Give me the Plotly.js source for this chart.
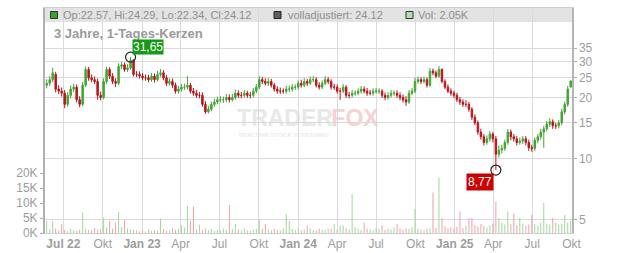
<!DOCTYPE html>
<html>
<head>
<meta charset="utf-8">
<script src="https://cdn.plot.ly/plotly-3.0.1.min.js"></script>
<style>
html,body{margin:0;padding:0;background:#fff;}
#chart{width:632px;height:253px;}
</style>
</head>
<body>
<div id="chart"></div>
<script>
// ---- data (weekly candles) ----
const firstWeek = '2022-05-23';
const opens = [
23.0,23.5,24.5,26.0,22.0,21.5,21.0,18.5,20.5,22.0,
22.5,19.5,18.5,23.0,27.5,25.0,24.5,24.0,20.5,20.0,
24.0,27.5,25.5,24.0,23.5,28.5,29.0,27.5,28.0,30.5,
26.0,26.0,25.5,25.0,25.0,24.5,25.5,24.5,26.0,26.5,
25.0,23.5,24.0,23.0,21.5,22.0,22.5,22.5,23.0,21.5,
21.0,20.5,20.5,18.5,17.0,17.5,18.5,19.0,19.5,19.5,
19.5,20.0,19.5,20.0,21.0,20.5,20.5,21.0,20.5,20.5,
21.5,22.5,24.5,24.0,23.5,24.0,23.0,22.0,21.5,21.5,
21.5,22.0,22.0,22.5,22.5,23.5,23.0,24.0,23.5,24.5,
24.5,23.0,22.5,23.5,24.5,24.0,22.5,22.5,21.5,21.5,
22.5,20.5,20.5,21.0,21.0,21.5,22.0,21.5,21.0,21.0,
21.5,21.5,21.5,20.5,20.0,20.5,21.0,21.0,20.5,20.0,
19.5,19.0,21.0,21.5,24.0,24.5,24.0,24.5,23.0,27.0,
26.5,25.5,27.5,24.0,22.5,21.5,21.0,20.5,19.5,19.0,
18.5,18.5,17.5,16.0,15.0,13.5,12.8,12.0,12.5,13.2,
12.5,10.5,11.0,11.2,12.0,13.5,12.8,12.5,12.0,12.2,
12.5,12.0,11.3,11.2,12.3,12.8,13.5,14.0,14.8,15.2,
14.5,14.5,15.0,17.0,18.5,22.57];
const highs = [
24.6,25.5,28.0,26.8,23.0,22.4,21.8,21.3,22.9,23.4,
23.2,20.3,23.9,28.5,28.3,26.0,25.4,24.8,21.4,24.9,
28.4,28.2,26.4,24.9,29.5,30.0,29.8,29.2,31.65,30.9,
27.0,26.9,26.4,26.0,25.9,26.4,26.3,27.0,27.6,27.3,
25.8,24.9,24.8,23.7,22.8,23.3,23.4,25.5,23.6,22.3,
21.8,21.3,21.2,19.2,18.2,19.1,19.7,20.2,20.3,20.2,
20.8,20.7,20.8,21.9,21.7,21.3,21.8,21.6,21.3,22.3,
23.3,25.5,25.3,24.9,24.9,24.7,23.6,22.7,22.4,22.2,
22.8,22.9,23.3,23.2,24.3,24.5,24.9,24.7,25.4,25.6,
25.2,23.8,24.3,25.5,25.2,24.6,23.4,23.2,22.3,23.3,
23.0,21.3,21.8,21.7,22.2,22.8,22.7,22.3,21.8,22.2,
22.3,22.2,22.0,21.2,21.3,21.8,21.7,21.7,21.2,20.7,
20.3,21.8,22.3,25.0,25.4,25.2,25.4,25.1,28.0,27.8,
27.2,28.6,27.9,24.6,23.2,22.2,21.6,21.1,20.1,19.6,
19.4,19.0,17.9,16.5,15.4,14.0,13.2,13.0,13.7,13.5,
12.9,11.6,11.7,12.4,14.0,13.9,13.2,12.9,12.7,12.9,
12.9,12.4,11.7,12.7,13.2,14.0,14.5,15.3,15.8,15.6,
15.0,15.5,17.6,19.1,22.8,24.29];
const lows = [
22.2,22.8,23.8,21.2,20.8,20.2,17.7,18.0,19.8,21.3,
18.9,17.9,18.1,22.5,24.2,23.8,23.3,19.5,19.4,19.6,
23.4,24.7,23.3,22.5,23.0,27.6,26.8,26.7,27.4,25.4,
25.2,24.8,24.3,24.2,23.8,23.9,23.7,24.0,25.3,24.3,
22.8,22.9,22.3,20.9,20.9,21.4,21.8,21.9,20.9,20.4,
19.9,19.8,18.0,16.6,16.7,17.1,18.0,18.5,18.9,18.8,
19.0,18.9,19.1,19.5,19.9,19.8,20.0,19.9,19.8,20.0,
21.0,22.0,23.3,22.9,22.8,22.4,21.4,20.9,20.8,20.9,
20.9,21.3,21.4,21.8,21.9,22.4,22.5,22.8,23.0,23.8,
22.4,21.9,22.0,23.0,23.3,21.9,21.8,20.9,19.5,21.0,
19.9,19.8,20.0,20.4,20.5,20.9,21.0,20.4,20.5,20.4,
20.9,20.8,19.9,19.4,19.5,20.0,20.4,19.9,19.4,18.9,
18.2,18.6,20.5,21.0,23.4,23.3,23.5,22.4,22.6,25.8,
24.9,25.0,23.5,22.0,21.0,20.4,19.9,19.0,18.4,18.0,
17.9,17.0,15.5,14.6,13.1,12.4,11.6,11.7,12.1,12.0,
8.77,10.1,10.6,10.9,11.7,12.3,12.1,11.6,11.7,11.8,
11.6,10.9,10.8,10.9,11.9,12.4,11.3,13.6,14.3,14.0,
14.0,14.1,14.6,16.5,18.0,22.34];
const closes = [
23.5,24.5,26.5,22.0,21.5,21.0,18.5,20.5,22.0,22.5,
19.5,18.5,23.0,27.5,25.0,24.5,24.0,20.5,20.0,24.0,
27.5,25.5,24.0,23.5,28.5,29.0,27.5,28.0,30.5,26.0,
26.0,25.5,25.0,25.0,24.5,25.5,24.5,26.0,26.5,25.0,
23.5,24.0,23.0,21.5,22.0,22.5,22.5,23.0,21.5,21.0,
20.5,20.5,18.5,17.0,17.5,18.5,19.0,19.5,19.5,19.5,
20.0,19.5,20.0,21.0,20.5,20.5,21.0,20.5,20.5,21.5,
22.5,24.5,24.0,23.5,24.0,23.0,22.0,21.5,21.5,21.5,
22.0,22.0,22.5,22.5,23.5,23.0,24.0,23.5,24.5,24.5,
23.0,22.5,23.5,24.5,24.0,22.5,22.5,21.5,21.5,22.5,
20.5,20.5,21.0,21.0,21.5,22.0,21.5,21.0,21.0,21.5,
21.5,21.5,20.5,20.0,20.5,21.0,21.0,20.5,20.0,19.5,
19.0,21.0,21.5,24.0,24.5,24.0,24.5,23.0,27.0,26.5,
25.5,27.5,24.0,22.5,21.5,21.0,20.5,19.5,19.0,18.5,
18.5,17.5,16.0,15.0,13.5,12.8,12.0,12.5,13.2,12.5,
10.5,11.0,11.2,12.0,13.5,12.8,12.5,12.0,12.2,12.5,
12.0,11.3,11.2,12.3,12.8,13.5,14.0,14.8,15.2,14.5,
14.5,15.0,17.0,18.5,22.0,24.12];
const volumes = [
4.0,1.2,4.0,1.5,0.8,3.0,1.0,0.6,1.4,0.9,
0.7,1.1,6.8,1.5,1.0,0.8,1.6,1.2,1.4,5.2,
1.8,4.0,1.5,3.5,7.0,2.0,4.5,1.6,1.2,1.0,
0.8,0.6,0.9,0.5,1.2,0.7,1.0,0.8,4.8,1.3,
0.7,0.9,1.5,1.0,1.4,2.5,1.8,9.0,4.0,8.8,
1.2,2.8,1.0,1.6,0.8,1.3,0.7,1.1,0.9,1.5,
1.0,9.3,1.4,3.0,1.2,0.8,1.6,0.9,0.7,1.1,
1.3,4.5,1.5,3.0,1.2,0.9,1.4,1.0,0.8,1.6,
6.3,4.0,1.3,1.0,1.5,0.9,1.2,2.5,1.6,1.0,
0.8,1.4,1.1,0.9,1.3,1.5,3.0,1.2,2.5,2.5,
1.6,1.2,13.0,1.8,1.4,1.0,3.5,1.5,1.2,0.9,
1.6,1.3,2.5,1.0,1.4,1.2,1.8,3.0,1.5,1.2,
1.6,1.3,1.8,8.0,1.5,1.2,0.9,1.4,1.6,13.5,
1.7,18.5,5.0,2.2,1.6,1.8,1.4,2.0,7.2,1.6,
2.4,5.0,5.0,2.6,2.2,3.0,2.5,1.8,2.6,3.2,
10.5,5.0,3.4,2.8,7.2,3.0,6.5,2.6,5.0,3.2,
2.4,2.8,6.0,3.0,2.5,3.4,10.0,3.2,2.8,5.0,
3.5,2.6,3.0,6.0,3.4,4.0]; // in thousands

const xTickDates = ['2022-07-01','2022-10-01','2023-01-01','2023-04-01','2023-07-01','2023-10-01',
  '2024-01-01','2024-04-01','2024-07-01','2024-10-01','2025-01-01','2025-04-01','2025-07-01','2025-10-01'];
const xTickLabels = ['<b>Jul 22</b>','Okt','<b>Jan 23</b>','Apr','Jul','Okt','<b>Jan 24</b>','Apr','Jul','Okt','<b>Jan 25</b>','Apr','Jul','Okt'];
const priceTicks = [5,10,15,20,25,30,35];
const volTicks = [0,5,10,15,20];
const volTickLabels = ['0K','5K','10K','15K','20K'];
const extremeIdx = [28,150];
const extremeVals = [31.65, 8.77];
const extremeLabels = ['31,65','8,77'];
const header = {op:'22.57', hi:'24.29', lo:'22.34', cl:'24.12', adj:'24.12', vol:'2.05K'};

// ---- build ----
const DAY = 864e5;
const start = Date.parse(firstWeek + 'T00:00:00Z');
const dates = closes.map((_, i) => new Date(start + i*7*DAY).toISOString().slice(0,10));
const volColors = closes.map((c, i) => c >= opens[i] ? '#a2d99c' : '#f2a3ab');

const FONT = 'Liberation Sans, Arial, sans-serif';
const W = 632, L = 45, R = 60, T = 8, B = 20;
const PW = W - L - R, PH = 253 - T - B;
const px = x => (x - L) / PW;
const py = y => (T + PH - y) / PH;

const traces = [
  {
    type: 'bar', x: dates, y: volumes.map(v => v*1000), yaxis: 'y2',
    marker: {color: volColors, line: {width: 0}}, width: 2.4*DAY,
    hoverinfo: 'skip'
  },
  {
    type: 'candlestick', x: dates, open: opens, high: highs, low: lows, close: closes,
    increasing: {line: {color: '#43a632', width: 1}, fillcolor: '#43a632'},
    decreasing: {line: {color: '#b8161c', width: 1}, fillcolor: '#b8161c'},
    whiskerwidth: 0, hoverinfo: 'skip'
  },
  {
    type: 'scatter', mode: 'markers',
    x: extremeIdx.map(i => dates[i]), y: extremeVals,
    marker: {symbol: 'circle-open', size: 10, color: '#222', line: {width: 1.2, color: '#222'}},
    hoverinfo: 'skip'
  }
];

const gridC = '#dadada';
const layout = {
  width: W, height: 253,
  margin: {l: L, r: R, t: T, b: B, pad: 0},
  paper_bgcolor: '#fff', plot_bgcolor: '#fff',
  showlegend: false, hovermode: false,
  font: {family: FONT, color: '#999', size: 12},
  xaxis: {
    type: 'date', range: ['2022-05-19', '2025-10-02'],
    tickmode: 'array', tickvals: xTickDates, ticktext: xTickLabels,
    showgrid: true, gridcolor: gridC, gridwidth: 1,
    ticks: '', tickfont: {family: FONT, size: 12, color: '#9d9d9d'},
    showline: true, linecolor: '#cfcfcf', linewidth: 1, mirror: true,
    rangeslider: {visible: false}, zeroline: false, fixedrange: true
  },
  yaxis: {
    type: 'log', range: [0.6323, 1.7428], side: 'right',
    tickmode: 'array', tickvals: priceTicks, ticktext: priceTicks.map(String),
    showgrid: true, gridcolor: gridC, gridwidth: 1,
    ticks: 'outside', ticklen: 3, tickcolor: '#aaa',
    tickfont: {family: FONT, size: 12, color: '#9d9d9d'},
    showline: true, linecolor: '#b5b5b5', linewidth: 1.5, zeroline: false, fixedrange: true
  },
  yaxis2: {
    overlaying: 'y', side: 'left', range: [0, 75000],
    tickmode: 'array', tickvals: volTicks.map(v => v*1000), ticktext: volTickLabels,
    showgrid: false, ticks: 'outside', ticklen: 3, tickcolor: '#aaa',
    tickfont: {family: FONT, size: 12, color: '#9d9d9d'},
    showline: true, linecolor: '#b0b0b0', linewidth: 2, zeroline: false, fixedrange: true
  },
  shapes: [
    {type: 'rect', xref: 'paper', yref: 'paper', x0: 0, x1: 1, y0: py(22), y1: 1,
     fillcolor: '#e3e3e3', line: {width: 0}, layer: 'below'},
    {type: 'rect', xref: 'paper', yref: 'paper', x0: px(50.5), x1: px(57.5), y0: py(18.5), y1: py(11.5),
     fillcolor: '#3aa335', line: {width: 1, color: '#333'}},
    {type: 'rect', xref: 'paper', yref: 'paper', x0: px(274), x1: px(281), y0: py(18.5), y1: py(11.5),
     fillcolor: '#5e5e5e', line: {width: 1, color: '#222'}},
    {type: 'rect', xref: 'paper', yref: 'paper', x0: px(406), x1: px(413), y0: py(18.5), y1: py(11.5),
     fillcolor: '#b2e0b0', line: {width: 1, color: '#333'}},
    {type: 'rect', xref: 'paper', yref: 'paper', x0: px(275), x1: px(295), y0: py(125), y1: py(107),
     line: {width: 0}, fillcolor: 'rgba(0,0,0,0)', layer: 'below',
     label: {text: '<b>TRADER</b>', textposition: 'middle center', font: {family: FONT, size: 23, color: '#e8e8e8'}}},
    {type: 'rect', xref: 'paper', yref: 'paper', x0: px(345), x1: px(365), y0: py(125), y1: py(107),
     line: {width: 0}, fillcolor: 'rgba(0,0,0,0)', layer: 'below',
     label: {text: '<b>FOX</b>', textposition: 'middle center', font: {family: FONT, size: 23, color: '#f6d3d3'}}},
    {type: 'rect', xref: 'paper', yref: 'paper', x0: px(274), x1: px(294), y0: py(136), y1: py(131),
     line: {width: 0}, fillcolor: 'rgba(0,0,0,0)', layer: 'below',
     label: {text: '<b>REALTIME STOCK SCREENING</b>', textposition: 'middle center', font: {family: FONT, size: 6, color: '#ececec'}}}
  ],
  annotations: [
    {xref: 'paper', yref: 'paper', x: px(61), y: py(15), xanchor: 'left', yanchor: 'middle', showarrow: false,
     text: 'Op:' + header.op + ', Hi:' + header.hi + ', Lo:' + header.lo + ', Cl:' + header.cl,
     font: {family: FONT, size: 11, color: '#8e8e8e'}},
    {xref: 'paper', yref: 'paper', x: px(286), y: py(15), xanchor: 'left', yanchor: 'middle', showarrow: false,
     text: 'volladjustiert: ' + header.adj, font: {family: FONT, size: 11, color: '#8e8e8e'}},
    {xref: 'paper', yref: 'paper', x: px(416), y: py(15), xanchor: 'left', yanchor: 'middle', showarrow: false,
     text: 'Vol: ' + header.vol, font: {family: FONT, size: 11, color: '#8e8e8e'}},
    {xref: 'paper', yref: 'paper', x: px(52), y: py(33), xanchor: 'left', yanchor: 'middle', showarrow: false,
     text: '<b>3 Jahre, 1-Tages-Kerzen</b>', font: {family: FONT, size: 13, color: '#9a9a9a'}},
    {xref: 'x', yref: 'y', x: dates[extremeIdx[0]], y: Math.log10(extremeVals[0]),
     xanchor: 'left', yanchor: 'middle', xshift: 1, yshift: 10, showarrow: false,
     text: extremeLabels[0], bgcolor: '#149a14', borderpad: 0,
     font: {family: FONT, size: 12, color: '#fff'}},
    {xref: 'x', yref: 'y', x: dates[extremeIdx[1]], y: Math.log10(extremeVals[1]),
     xanchor: 'right', yanchor: 'top', xshift: -2, yshift: -3, showarrow: false,
     text: extremeLabels[1], bgcolor: '#cc0000', borderpad: 1,
     font: {family: FONT, size: 12, color: '#fff'}}
  ]
};

Plotly.newPlot('chart', traces, layout, {staticPlot: true, displayModeBar: false});
</script>
</body>
</html>
